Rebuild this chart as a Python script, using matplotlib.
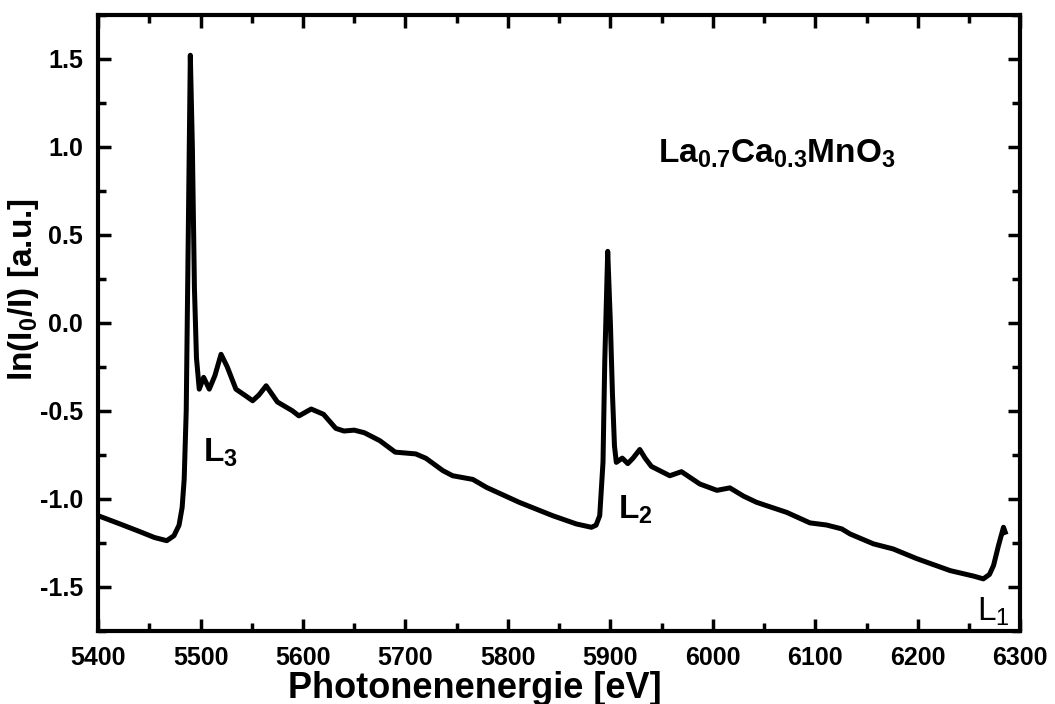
import matplotlib
matplotlib.use('Agg')
import matplotlib.pyplot as plt
from matplotlib.ticker import MultipleLocator, FormatStrFormatter

plt.rcParams['font.family'] = ['Liberation Sans', 'DejaVu Sans']
plt.rcParams['font.weight'] = 'bold'
plt.rcParams['mathtext.fontset'] = 'custom'
plt.rcParams['mathtext.rm'] = 'Liberation Sans:normal'
plt.rcParams['mathtext.bf'] = 'Liberation Sans:bold'

# spectrum (photon energy in eV, ln(I0/I))
energy = [5400, 5420, 5440, 5455, 5467, 5474, 5479, 5482, 5484, 5486, 5488, 5490,
          5492, 5494, 5496, 5498.7, 5503, 5508.5, 5514, 5520, 5526, 5534.5, 5544,
          5550.8, 5557, 5564, 5575, 5589.6, 5596, 5608, 5620, 5632, 5640, 5650,
          5660, 5675, 5690, 5700, 5710, 5720, 5736.5, 5746, 5765.8, 5779, 5811,
          5843.7, 5866.8, 5881.5, 5886, 5889.6, 5892.8, 5894.5, 5897.4, 5900,
          5902, 5904, 5905.8, 5911.6, 5917, 5922, 5928.7, 5934, 5940, 5958,
          5969.4, 5987.3, 6004, 6016.6, 6030, 6042.7, 6052.4, 6072, 6094.8, 6111,
          6125.8, 6134, 6156.7, 6176, 6199, 6231.6, 6255, 6264, 6270, 6274,
          6278.8, 6283.7, 6285.4]
absorb = [-1.096, -1.14, -1.185, -1.22, -1.238, -1.21, -1.15, -1.05, -0.89, -0.5, 0.5, 1.52,
          1.0, 0.2, -0.2, -0.377, -0.31, -0.377, -0.30, -0.179, -0.25, -0.377, -0.415,
          -0.443, -0.41, -0.358, -0.45, -0.50, -0.529, -0.49, -0.52, -0.60, -0.615, -0.61,
          -0.625, -0.67, -0.735, -0.74, -0.745, -0.77, -0.84, -0.869, -0.89, -0.935, -1.02,
          -1.096, -1.143, -1.162, -1.15, -1.096, -0.793, -0.224, 0.406, 0.0,
          -0.4, -0.7, -0.793, -0.769, -0.80, -0.77, -0.72, -0.77, -0.816, -0.869,
          -0.846, -0.916, -0.952, -0.938, -0.985, -1.02, -1.039, -1.077, -1.137, -1.149,
          -1.171, -1.2, -1.256, -1.285, -1.34, -1.408, -1.44, -1.455, -1.43, -1.379,
          -1.266, -1.162, -1.19]

fig = plt.figure(figsize=(10.55, 7.04), dpi=100)
ax = fig.add_axes([0.093, 0.104, 0.874, 0.875])

ax.plot(energy, absorb, color='black', linewidth=3.6, solid_joinstyle='round')

ax.set_xlim(5400, 6300)
ax.set_ylim(-1.75, 1.75)
ax.xaxis.set_major_locator(MultipleLocator(100))
ax.xaxis.set_minor_locator(MultipleLocator(50))
ax.yaxis.set_major_locator(MultipleLocator(0.5))
ax.yaxis.set_minor_locator(MultipleLocator(0.25))
ax.yaxis.set_major_formatter(FormatStrFormatter('%.1f'))

ax.tick_params(which='both', direction='in', top=True, right=True, width=2.5)
ax.tick_params(which='major', length=9)
ax.tick_params(which='minor', length=5.5)
ax.tick_params(axis='x', labelsize=18, pad=11)
ax.tick_params(axis='y', labelsize=18, pad=11)
for sp in ax.spines.values():
    sp.set_linewidth(3)

fig.text(475 / 1055, 1 - 688 / 704, 'Photonenenergie [eV]', fontsize=26,
         fontweight='bold', ha='center', va='center')
fig.text(24 / 1055, 1 - 290 / 704, r'ln(I$_\mathbf{0}$/I) [a.u.]', fontsize=24,
         fontweight='bold', rotation=90, ha='center', va='center')

ax.text(5946, 0.91, r'$\mathbf{La_{0.7}Ca_{0.3}MnO_3}$', fontsize=24, ha='left', va='baseline')
ax.text(5502, -0.79, r'$\mathbf{L_3}$', fontsize=24, ha='left', va='baseline')
ax.text(5907, -1.115, r'$\mathbf{L_2}$', fontsize=24, ha='left', va='baseline')
ax.text(6258, -1.69, r'L$_\mathrm{1}$', fontsize=24, fontweight='normal',
        ha='left', va='baseline')

fig.savefig('out.png', dpi=100)
